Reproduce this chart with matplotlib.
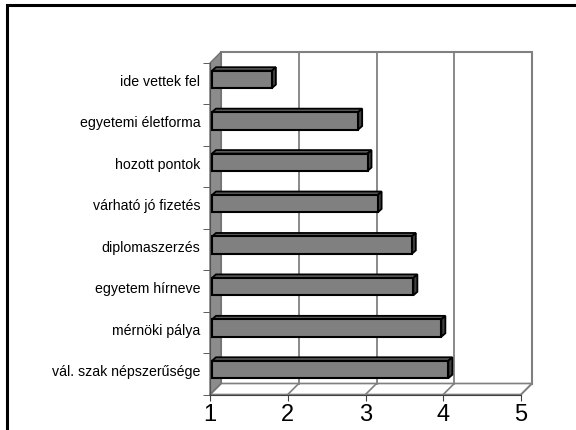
import numpy as np
import matplotlib.pyplot as plt
from matplotlib.patches import Polygon, Rectangle

plt.rcParams['font.family'] = ['Liberation Sans', 'DejaVu Sans']

# data, bottom to top
categories = ['vál. szak népszerűsége', 'mérnöki pálya', 'egyetem hírneve',
              'diplomaszerzés', 'várható jó fizetés', 'hozott pontok',
              'egyetemi életforma', 'ide vettek fel']
values = [4.04, 3.95, 3.59, 3.57, 3.13, 3.0, 2.88, 1.77]
xticks = [1, 2, 3, 4, 5]

W, H = 576, 431
fig = plt.figure(figsize=(W / 100, H / 100), dpi=100)

# front plane of the 3d box, in pixels
x0, x1 = 210, 521
ytop, ybot = 64, 395.5
ax = fig.add_axes([x0 / W, (H - ybot) / H, (x1 - x0) / W, (ybot - ytop) / H])
ax.set_xlim(1, 5)
ax.set_ylim(-0.5, 7.5)

# pixel -> data units
px = 4 / (x1 - x0)
py = 8 / (ybot - ytop)

wall = '#808080'
wx, wy = 11 * px, 11 * py   # depth of the box

# back wall + gridlines
ax.add_patch(Rectangle((1 + wx, -0.5 + wy), 4, 8, facecolor='white',
                       edgecolor=wall, lw=1.5, clip_on=False, zorder=1))
for v in xticks[1:-1]:
    ax.plot([v + wx, v + wx], [-0.5 + wy, 7.5 + wy], color=wall, lw=1.3,
            clip_on=False, zorder=1.5)

# floor
ax.add_patch(Polygon([(1, -0.5), (5, -0.5), (5 + wx, -0.5 + wy), (1 + wx, -0.5 + wy)],
                     closed=True, facecolor='white', edgecolor=wall, lw=1.2,
                     clip_on=False, zorder=1.2))
for v in xticks:
    ax.plot([v, v + wx], [-0.5, -0.5 + wy], color=wall, lw=1.2, clip_on=False, zorder=1.5)

# left wall
ax.add_patch(Polygon([(1, -0.5), (1, 7.5), (1 + wx, 7.5 + wy), (1 + wx, -0.5 + wy)],
                     closed=True, facecolor='#8c8c8c', edgecolor='#707070', lw=1.0,
                     clip_on=False, zorder=2))

# bars: front face + top + side
fx, fy = 2 * px, 4.3 * py      # bar front offset from front plane
dx, dy = 4 * px, 3.5 * py      # bar depth
bh = 17.4 * py
ypos = np.arange(len(categories))
vals = np.array(values)
ax.barh(ypos + fy, vals - 1, left=1 + fx, height=bh, color='#808080',
        edgecolor='black', lw=1.5, zorder=5)
for y, v in zip(ypos, vals):
    L, R = 1 + fx, v + fx
    B, T = y + fy - bh / 2, y + fy + bh / 2
    ax.add_patch(Polygon([(L, T), (R, T), (R + dx, T + dy), (L + dx, T + dy)],
                         closed=True, facecolor='#5a5a5a', edgecolor='black',
                         lw=1.3, zorder=4, clip_on=False))
    ax.add_patch(Polygon([(R, B), (R, T), (R + dx, T + dy), (R + dx, B + dy)],
                         closed=True, facecolor='#404040', edgecolor='black',
                         lw=1.3, zorder=4, clip_on=False))

# axes
for s in ['top', 'right']:
    ax.spines[s].set_visible(False)
ax.spines['bottom'].set_color('#404040')
ax.spines['left'].set_color('#505050')
ax.spines['bottom'].set_zorder(3)
ax.spines['left'].set_zorder(3)

ax.set_xticks(xticks)
ax.set_xticklabels([str(t) for t in xticks], fontsize=17)
ax.tick_params(axis='x', length=4, color='#404040', pad=2)

ax.set_yticks(ypos + fy)
ax.set_yticklabels(categories, fontsize=10.2)
ax.set_yticks(np.arange(-0.5, 8, 1), minor=True)
ax.tick_params(axis='y', which='major', length=0, pad=7)
ax.tick_params(axis='y', which='minor', length=5, color='#404040')

# frame around the picture
fig.patches.append(Rectangle((7 / W, -0.05), 1.1, 1 - 6 / H + 0.05, transform=fig.transFigure,
                             fill=False, edgecolor='black', lw=2.2))

plt.savefig('out.png', dpi=100)
